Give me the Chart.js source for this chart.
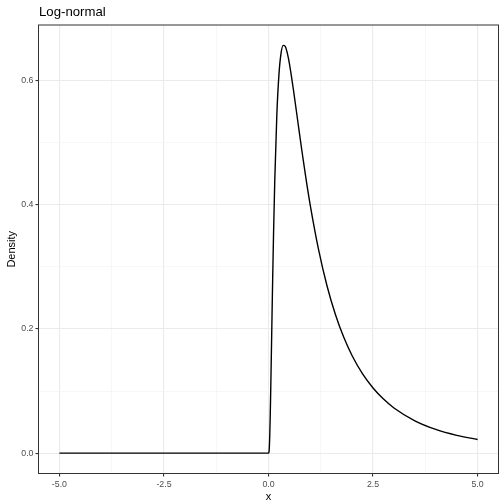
<!DOCTYPE html>
<html>
<head>
<meta charset="utf-8">
<script src="https://cdn.jsdelivr.net/npm/chart.js@4/dist/chart.umd.min.js"></script>
<style>
html,body{margin:0;padding:0;background:#fff;}
#wrap{width:504px;height:504px;position:relative;}
</style>
</head>
<body>
<div id="wrap"><canvas id="c" width="504" height="504"></canvas></div>
<script>
// Data
const xValues = [-5, -4.5, -4, -3.5, -3, -2.5, -2, -1.5, -1, -0.5, 0,
  0.01, 0.02, 0.03, 0.04, 0.05, 0.06, 0.08, 0.1, 0.12, 0.15, 0.2, 0.25, 0.3, 0.35, 0.4, 0.45, 0.5,
  0.6, 0.7, 0.8, 0.9, 1.0, 1.2, 1.4, 1.6, 1.8, 2.0, 2.25, 2.5, 2.75, 3.0, 3.5, 4.0, 4.5, 5.0];
const densityValues = [0, 0, 0, 0, 0, 0, 0, 0, 0, 0, 0,
  0.001, 0.0095, 0.0284, 0.0561, 0.0898, 0.1271, 0.2053, 0.2816, 0.3511, 0.4399, 0.5464, 0.6104, 0.6442, 0.6570, 0.6555, 0.6445, 0.6275,
  0.5836, 0.5348, 0.4864, 0.4408, 0.3989, 0.3270, 0.2693, 0.2233, 0.1865, 0.1569, 0.1276, 0.1049, 0.0870, 0.0727, 0.0520, 0.0381, 0.0286, 0.0219];
const xMajorTicks = [-5, -2.5, 0, 2.5, 5];
const xMinorTicks = [-3.75, -1.25, 1.25, 3.75];
const yMajorTicks = [0, 0.2, 0.4, 0.6];
const yMinorTicks = [0.1, 0.3, 0.5];
const titleText = 'Log-normal';
const xTitle = 'x';
const yTitle = 'Density';

const points = xValues.map((x, i) => ({x: x, y: densityValues[i]}));

function tickSet(major, minor) {
  return major.concat(minor).sort((a, b) => a - b).map(v => ({value: v}));
}
const isMajor = (list, v) => list.some(m => Math.abs(m - v) < 1e-9);

const panelPlugin = {
  id: 'panel',
  afterDraw(chart) {
    const {ctx, chartArea: a} = chart;
    ctx.save();
    ctx.strokeStyle = '#333333';
    ctx.lineWidth = 1;
    ctx.strokeRect(a.left, a.top, a.right - a.left, a.bottom - a.top);
    ctx.fillStyle = '#000000';
    ctx.font = '13.2px "Liberation Sans", Arial, sans-serif';
    ctx.textBaseline = 'alphabetic';
    ctx.textAlign = 'left';
    ctx.fillText(titleText, 39, 16);
    ctx.restore();
  }
};

new Chart(document.getElementById('c'), {
  type: 'line',
  data: {
    datasets: [{
      data: points,
      borderColor: '#000000',
      borderWidth: 1.4,
      pointRadius: 0,
      fill: false,
      tension: 0.3,
      cubicInterpolationMode: 'monotone'
    }]
  },
  options: {
    responsive: false,
    animation: false,
    devicePixelRatio: 1,
    layout: {padding: {top: 25, right: 5.5, left: 0, bottom: 0}},
    plugins: {legend: {display: false}, tooltip: {enabled: false}, title: {display: false}},
    scales: {
      x: {
        type: 'linear',
        min: -5.5, max: 5.5,
        afterBuildTicks: s => { s.ticks = tickSet(xMajorTicks, xMinorTicks); },
        afterFit: s => { s.height = 30.5; },
        grid: {
          color: c => isMajor(xMajorTicks, c.tick.value) ? '#EBEBEB' : '#F2F2F2',
          lineWidth: c => isMajor(xMajorTicks, c.tick.value) ? 1.1 : 0.6,
          tickColor: c => isMajor(xMajorTicks, c.tick.value) ? '#333333' : 'rgba(0,0,0,0)',
          tickLength: 3,
          drawOnChartArea: true
        },
        border: {display: false},
        ticks: {
          autoSkip: false, maxRotation: 0,
          padding: 3,
          color: '#4D4D4D',
          font: {family: '"Liberation Sans", Arial, sans-serif', size: 8.8},
          callback: v => isMajor(xMajorTicks, v) ? v.toFixed(1) : ''
        },
        title: {display: true, text: xTitle, color: '#000000',
          font: {family: '"Liberation Sans", Arial, sans-serif', size: 11},
          padding: {top: 0, bottom: 0.5}}
      },
      y: {
        type: 'linear',
        min: -0.0329, max: 0.6899,
        afterBuildTicks: s => { s.ticks = tickSet(yMajorTicks, yMinorTicks); },
        afterFit: s => { s.width = 38.5; },
        grid: {
          color: c => isMajor(yMajorTicks, c.tick.value) ? '#EBEBEB' : '#F2F2F2',
          lineWidth: c => isMajor(yMajorTicks, c.tick.value) ? 1.1 : 0.6,
          tickColor: c => isMajor(yMajorTicks, c.tick.value) ? '#333333' : 'rgba(0,0,0,0)',
          tickLength: 3
        },
        border: {display: false},
        ticks: {
          autoSkip: false,
          padding: 2,
          color: '#4D4D4D',
          font: {family: '"Liberation Sans", Arial, sans-serif', size: 8.8},
          callback: v => isMajor(yMajorTicks, v) ? v.toFixed(1) : ''
        },
        title: {display: true, text: yTitle, color: '#000000',
          font: {family: '"Liberation Sans", Arial, sans-serif', size: 11},
          padding: {top: 5, bottom: 0}}
      }
    }
  },
  plugins: [panelPlugin]
});
</script>
</body>
</html>
